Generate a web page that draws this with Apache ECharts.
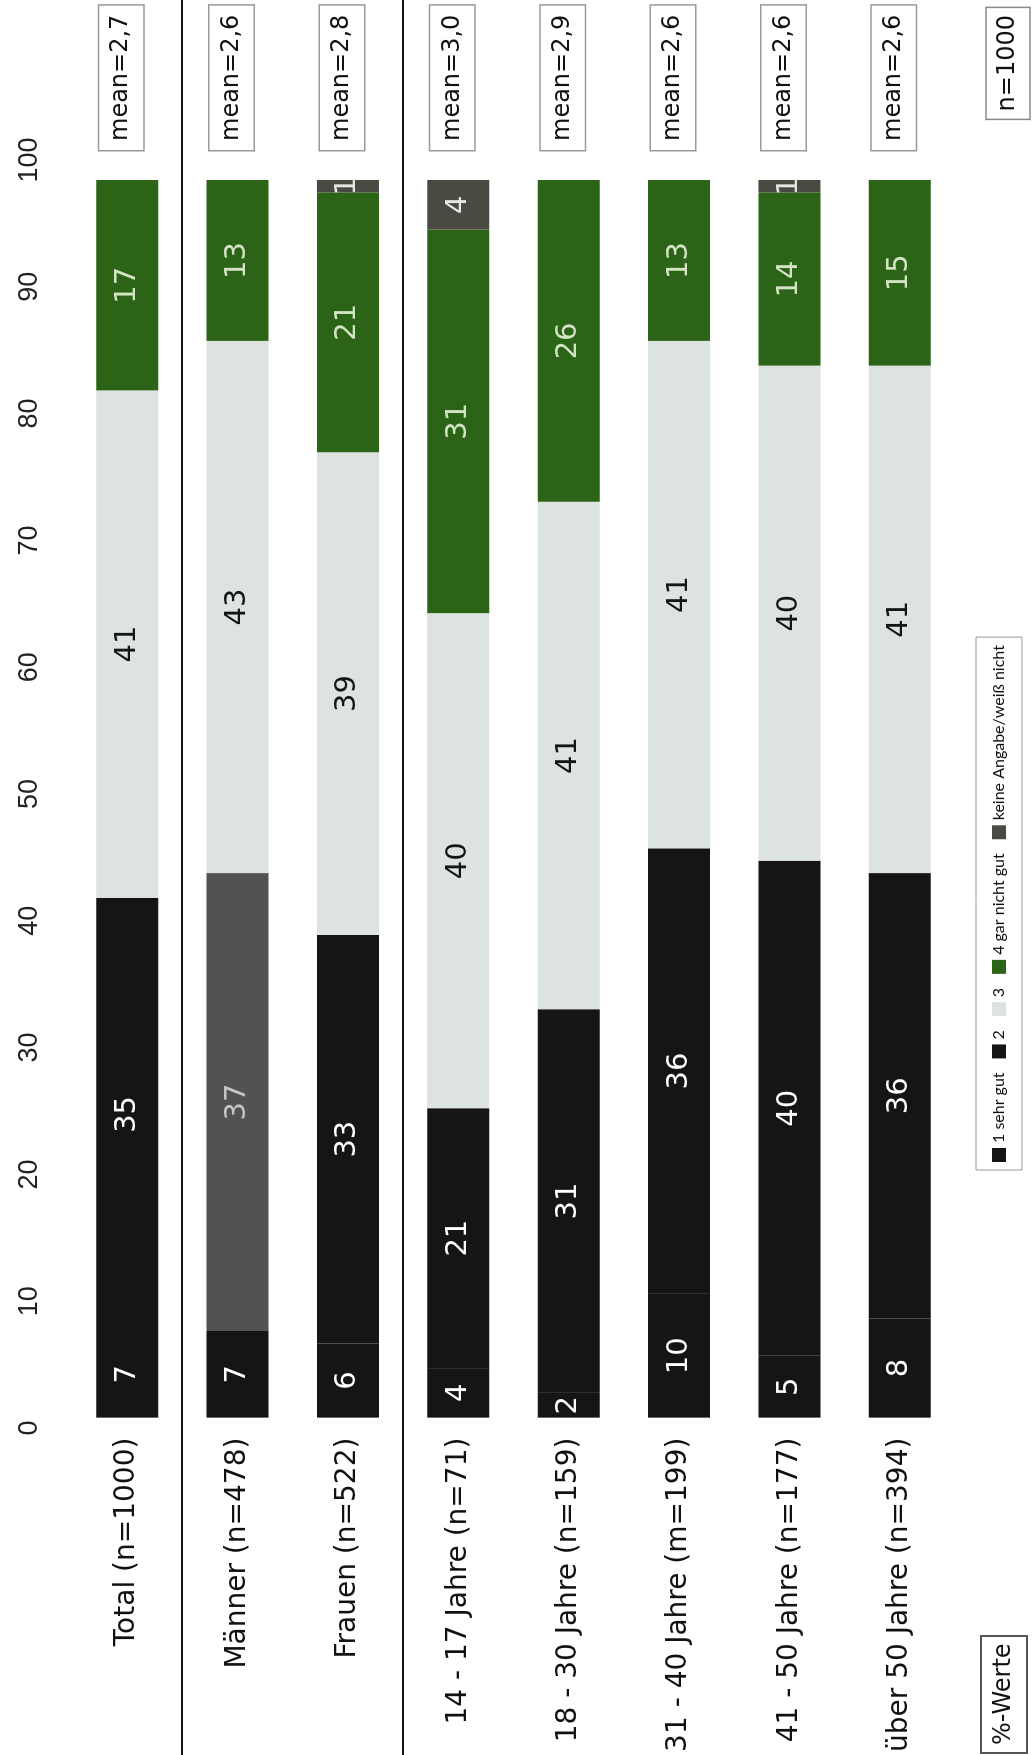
<!DOCTYPE html>
<html>
<head>
<meta charset="utf-8">
<script src="https://cdn.jsdelivr.net/npm/echarts@6/dist/echarts.min.js"></script>
<style>
html,body{margin:0;padding:0;background:#fff;overflow:hidden;width:1034px;height:1755px;}
#wrap{position:absolute;left:0;top:0;width:1755px;height:1034px;transform-origin:0 0;transform:translate(0px,1755px) rotate(-90deg);}
</style>
</head>
<body>
<div id="wrap"></div>
<script>
// ---- data ----
const categories = ['Total (n=1000)','Männer (n=478)','Frauen (n=522)','14 - 17 Jahre (n=71)','18 - 30 Jahre (n=159)','31 - 40 Jahre (m=199)','41 - 50 Jahre (n=177)','über 50 Jahre (n=394)'];
const seriesNames = ['1 sehr gut','2','3','4 gar nicht gut','keine Angabe/weiß nicht'];
const sehrGut     = [7, 7, 6, 4, 2, 10, 5, 8];
const zwei        = [35, 37, 33, 21, 31, 36, 40, 36];
const drei        = [41, 43, 39, 40, 41, 41, 40, 41];
const garNichtGut = [17, 13, 21, 31, 26, 13, 14, 15];
const keineAngabe = [0, 0, 1, 4, 0, 0, 1, 0];
const means = ['mean=2,7','mean=2,6','mean=2,8','mean=3,0','mean=2,9','mean=2,6','mean=2,6','mean=2,6'];
const sampleNote = 'n=1000';
const unitNote = '%-Werte';

// ---- styles ----
const colors = ['#151515','#151515','#dde3df','#2c6417','#4a4a42'];
const labelColors = ['#ffffff','#ffffff','#151515','#d3e4c4','#e6e6e6'];
const values = [sehrGut, zwei, drei, garNichtGut, keineAngabe];

const chart = echarts.init(document.getElementById('wrap'), null, {renderer:'canvas'});

const series = values.map((arr, i) => ({
  name: seriesNames[i],
  type: 'bar',
  stack: 'total',
  barWidth: 62,
  xAxisIndex: 0, yAxisIndex: 0,
  itemStyle: {color: colors[i]},
  label: {
    show: true, position: 'inside', color: labelColors[i],
    fontFamily: 'DejaVu Sans', fontSize: 29,
    formatter: p => (p.value > 0 ? String(p.value) : '')
  },
  data: arr.map((v, j) => {
    const d = {value: v};
    if (i === 1 && j === 1) { d.itemStyle = {color: '#525252'}; d.label = {color: '#c4c4c4'}; }
    return d;
  })
}));

const hiddenCat = {type: 'category', data: categories, inverse: true, show: false};

chart.setOption({
  animation: false,
  backgroundColor: '#fff',
  title: [
    {text: sampleNote, right: 7, top: 986, backgroundColor: '#fff', borderColor: '#8a8a8a', borderWidth: 1.5, padding: [10, 8],
     textStyle: {fontFamily: 'DejaVu Sans', fontSize: 24, fontWeight: 'normal', color: '#111'}},
    {text: unitNote, left: 2, top: 981, backgroundColor: '#fff', borderColor: '#555', borderWidth: 2, padding: [11, 8],
     textStyle: {fontFamily: 'DejaVu Sans', fontSize: 24, fontWeight: 'normal', color: '#111'}}
  ],
  legend: {
    data: seriesNames, left: 585, top: 976, orient: 'horizontal', icon: 'rect',
    itemWidth: 14, itemHeight: 14, itemGap: 14, padding: [15, 8],
    borderColor: '#999', borderWidth: 1,
    textStyle: {fontFamily: 'Lato', fontSize: 16, color: '#111'}
  },
  grid: [
    {left: 327, right: 180, top: 72, bottom: 79},   // bars
    {left: 327, right: 160, top: 72, bottom: 79},   // tick labels
    {left: 327, right: 180, top: 66, bottom: 85}    // mean boxes
  ],
  xAxis: [
    {gridIndex: 0, type: 'value', min: 0, max: 100, interval: 10, show: false},
    {gridIndex: 1, type: 'value', min: 0, max: 100, interval: 10, position: 'top',
     axisLine: {show: false}, axisTick: {show: false}, splitLine: {show: false},
     axisLabel: {fontFamily: "'Liberation Sans Narrow', 'Liberation Sans'", fontSize: 27, color: '#222', margin: 29}},
    {gridIndex: 2, type: 'value', min: 0, max: 100, show: false}
  ],
  yAxis: [
    {gridIndex: 0, type: 'category', data: categories, inverse: true,
     axisLine: {show: false}, axisTick: {show: false},
     axisLabel: {fontFamily: 'DejaVu Sans', fontSize: 28, color: '#111', margin: 20}},
    Object.assign({gridIndex: 1}, hiddenCat),
    {gridIndex: 2, type: 'category', data: categories, inverse: true, position: 'right',
     axisLine: {show: false}, axisTick: {show: false},
     axisLabel: {margin: 30, formatter: (v, i) => means[i], fontFamily: 'DejaVu Sans', fontSize: 24, color: '#111',
       backgroundColor: '#fff', borderColor: '#9a9a9a', borderWidth: 1.5, padding: [11, 9, 9, 9]}}
  ],
  series: series
});

// separator lines between groups (Total | Geschlecht | Alter)
const sepAfter = [0, 2];
const lines = sepAfter.map(k => {
  const a = chart.convertToPixel({yAxisIndex: 0}, categories[k]);
  const b = chart.convertToPixel({yAxisIndex: 0}, categories[k + 1]);
  const y = Math.round((a + b) / 2);
  return {type: 'line', shape: {x1: 0, y1: y, x2: 1755, y2: y}, style: {stroke: '#111', lineWidth: 2}, z: 100};
});
chart.setOption({graphic: lines});
</script>
</body>
</html>
